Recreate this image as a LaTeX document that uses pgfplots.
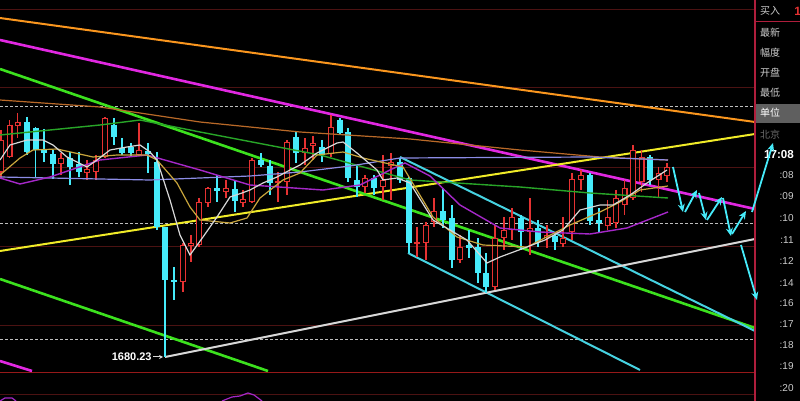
\documentclass[border=0pt]{standalone}
\usepackage{pgfplots}
\pgfplotsset{compat=1.18}
\usepackage{pgfplotstable}
\usepackage{fontspec}
\setmainfont{Liberation Sans}
\newfontfamily\cjk{Noto Sans CJK SC}
\usetikzlibrary{arrows.meta}
\definecolor{cred}{RGB}{230,50,50}
\definecolor{ccyan}{RGB}{70,235,250}
\definecolor{corange}{RGB}{250,150,30}
\definecolor{cmag}{RGB}{225,40,225}
\definecolor{cyel}{RGB}{240,235,40}
\definecolor{cgreen}{RGB}{60,225,30}
\definecolor{cchan}{RGB}{70,210,225}
\definecolor{cwhite}{RGB}{215,215,215}
\definecolor{cdash}{RGB}{190,190,190}
\definecolor{cgrid}{RGB}{75,18,18}
\definecolor{cgridb}{RGB}{150,25,25}
\definecolor{csep}{RGB}{175,30,60}
\definecolor{cbox}{RGB}{95,95,95}
\definecolor{cgreytxt}{RGB}{105,105,105}
\definecolor{ma5}{RGB}{215,215,215}
\definecolor{ma10}{RGB}{200,165,60}
\definecolor{ma20}{RGB}{165,40,200}
\definecolor{ma30}{RGB}{140,140,230}
\definecolor{ma60}{RGB}{40,165,40}
\definecolor{ma120}{RGB}{185,105,40}
\definecolor{ctext}{RGB}{205,205,205}

\pgfplotstableread{
x wt wb bt bb
1 130 178 140 172
9.5 120 158 125 157
17.5 113 138 122 126
61 153 175 158 164
87 160 180 169 173
96 155 180 160 172
105 117 158 118 157
139 123 155 150 155
183 243 292 245 282
191 235 262 243 246
199 198 247 202 245
208 187 207 188 203
226 180 198 188 192
243 190 207 199 203
252 158 203 160 202
278 172 202 181 183
287 140 195 142 182
305 138 165 148 153
313 136 160 143 146
331 115 157 127 154
365 175 193 178 187
383 155 200 180 187
391 153 200 162 166
417 227 257 242 244
426 222 260 225 243
434 198 227 211 222
460 235 263 247 260
495 225 290 238 287
504 217 250 230 238
512 208 240 217 230
530 198 255 228 232
547 225 248 235 238
563 217 247 238 244
572 173 240 179 232
581 170 190 175 180
607.5 200 230 217 226
616 190 228 198 223
624.5 180 215 188 205
633 145 200 150 198
641.5 150 192 157 182
658.5 167 198 173 180
667 163 182 167 176
}\redc

\pgfplotstableread{
x wt wb bt bb
27 117 155 122 152
35.5 127 178 128 150
44 129 162 150 153
53 150 179 154 164
70 152 185 158 167
79 152 177 164 172
114 118 145 125 137
122 138 155 148 153
131 143 157 147 153
148 143 173 151 154
157 152 230 162 227
165 227 357 227 280
174 267 300 280 282
217 175 202 188 191
235 180 212 189 201
261 153 167 160 165
270 160 195 166 183
296 132 163 137 153
322 140 162 147 155
340 118 135 120 133
348 128 182 132 178
357 165 197 180 187
374 175 195 178 188
400 158 183 162 180
409 177 253 178 243
443 188 228 211 220
452 205 268 218 260
469 230 258 245 248
478 238 283 247 273
486 253 293 273 287
521 215 250 218 232
538 220 247 228 242
555 233 250 236 242
590 173 225 175 221
599 208 233 220 223
650 155 185 157 180
}\cyanc

\begin{document}
\begin{tikzpicture}
\begin{axis}[
  x=0.5pt, y=0.5pt,
  xmin=0, xmax=800, ymin=0, ymax=401,
  y dir=reverse,
  enlargelimits=false,
  scale only axis,
  axis line style={draw=none},
  ticks=none,
  axis background/.style={fill=black},
  clip=true,
]
% grid lines
\addplot[cgrid, line width=0.5pt] coordinates {(0,10) (755,10)};
\addplot[cgrid, line width=0.5pt] coordinates {(0,88) (755,88)};
\addplot[cgrid, line width=0.5pt] coordinates {(0,168) (755,168)};
\addplot[cgrid, line width=0.5pt] coordinates {(0,247) (755,247)};
\addplot[cgrid, line width=0.5pt] coordinates {(0,326) (755,326)};
\addplot[cdash, line width=0.5pt, dash pattern=on 1.5pt off 1pt] coordinates {(0,107) (753,107)};
\addplot[cdash, line width=0.5pt, dash pattern=on 1.5pt off 1pt] coordinates {(0,224) (753,224)};
\addplot[cdash, line width=0.5pt, dash pattern=on 1.5pt off 1pt] coordinates {(0,340) (753,340)};
\addplot[cgridb, line width=0.5pt] coordinates {(0,373) (755,373)};
\addplot[cgrid, line width=0.5pt] coordinates {(0,395) (755,395)};
% indicator bits
\addplot[ma20, line width=0.6pt] coordinates {(0,401) (5,398) (12,398) (16,401)};
\addplot[ma20, line width=0.6pt] coordinates {(222,401) (232,397) (240,396) (248,393) (254,395) (262,401)};

% trend lines
\addplot[corange, line width=1pt] coordinates {(0,18) (755,122)};
\addplot[cmag, line width=1.3pt] coordinates {(0,40) (755,209)};
\addplot[cmag, line width=1.3pt] coordinates {(0,361) (32,371)};
\addplot[cyel, line width=1pt] coordinates {(0,251) (755,134)};
\addplot[cgreen, line width=1.3pt] coordinates {(0,69) (755,328)};
\addplot[cgreen, line width=1.3pt] coordinates {(0,279) (268,371)};
\addplot[cchan, line width=1pt] coordinates {(400,157) (755,331)};
\addplot[cchan, line width=1pt] coordinates {(408,253) (640,370)};
\addplot[cwhite, line width=1pt] coordinates {(165,357) (755,239)};
\addplot[cwhite, line width=0.5pt, -{Stealth[length=2pt,width=2pt]}] coordinates {(153,357) (163,357)};

% red candles
\addplot[draw=none, mark=none, error bars/.cd, y dir=plus, y explicit, error mark=none,
  error bar style={draw=cred, line width=0.6pt}]
  table[x=x, y=wt, y error expr=\thisrow{wb}-\thisrow{wt}] {\redc};
\addplot[draw=none, mark=none, error bars/.cd, y dir=plus, y explicit, error mark=none,
  error bar style={draw=cred, line width=3pt}]
  table[x=x, y=bt, y error expr={max(\thisrow{bb}-\thisrow{bt},1)}] {\redc};
\addplot[draw=none, mark=none, error bars/.cd, y dir=plus, y explicit, error mark=none,
  error bar style={draw=black, line width=1.9pt}]
  table[x=x, y expr=\thisrow{bt}+1.1, y error expr={max(\thisrow{bb}-\thisrow{bt}-2.2,0)}] {\redc};
% cyan candles
\addplot[draw=none, mark=none, error bars/.cd, y dir=plus, y explicit, error mark=none,
  error bar style={draw=ccyan, line width=0.6pt}]
  table[x=x, y=wt, y error expr=\thisrow{wb}-\thisrow{wt}] {\cyanc};
\addplot[draw=none, mark=none, error bars/.cd, y dir=plus, y explicit, error mark=none,
  error bar style={draw=ccyan, line width=3pt}]
  table[x=x, y=bt, y error expr={max(\thisrow{bb}-\thisrow{bt},1)}] {\cyanc};

% moving averages
\addplot[ma120, line width=0.6pt] coordinates {(0,100) (100,107) (200,122) (300,132) (410,139) (520,150) (600,157) (668,160)};
\addplot[ma60, line width=0.7pt] coordinates {(0,135) (100,125) (140,120) (200,132) (320,155) (410,180) (520,187) (590,193) (668,198)};
\addplot[ma30, line width=0.6pt] coordinates {(0,177) (150,180) (250,176) (300,172) (350,166) (400,158) (590,157) (668,160)};
\addplot[ma20, line width=0.7pt] coordinates {(0,178) (20,184) (50,177) (100,160) (147,155) (200,170) (250,185) (323,190) (360,185) (390,170) (405,163) (430,176) (460,205) (500,228) (540,232) (590,234) (627,228) (668,212)};
\addplot[ma10, line width=0.6pt] coordinates {(0,175) (20,158) (33,150) (57,149) (93,157) (117,155) (147,155) (157,160) (177,183) (190,207) (200,220) (230,223) (247,218) (260,198) (283,180) (300,173) (317,155) (343,152) (363,158) (403,167) (433,217) (457,237) (483,245) (527,247) (570,225) (600,212) (620,202) (640,190) (668,186)};
\addplot[ma5, line width=0.6pt] coordinates {(0,160) (10,145) (27,140) (43,140) (53,145) (67,157) (87,167) (97,160) (110,150) (127,147) (140,145) (150,152) (157,160) (170,200) (180,235) (190,255) (203,237) (217,217) (230,197) (242,193) (250,190) (263,183) (277,177) (290,170) (300,165) (317,153) (337,143) (343,142) (357,153) (377,170) (383,180) (397,178) (410,183) (433,220) (450,230) (467,240) (487,263) (500,257) (527,247) (545,240) (563,230) (580,210) (600,205) (613,205) (630,195) (647,183) (667,170)};

% projection arrows
\addplot[ccyan, line width=0.9pt, -{Stealth[length=4pt,width=3.5pt]}] coordinates {(673,167) (683,212)};
\addplot[ccyan, line width=0.9pt, -{Stealth[length=4pt,width=3.5pt]}] coordinates {(685,212) (697,190)};
\addplot[ccyan, line width=0.9pt, -{Stealth[length=4pt,width=3.5pt]}] coordinates {(699,193) (706,220)};
\addplot[ccyan, line width=0.9pt, -{Stealth[length=4pt,width=3.5pt]}] coordinates {(707,220) (722,197)};
\addplot[ccyan, line width=0.9pt, -{Stealth[length=4pt,width=3.5pt]}] coordinates {(723,198) (731,236)};
\addplot[ccyan, line width=0.9pt, -{Stealth[length=4pt,width=3.5pt]}] coordinates {(732,234) (746,211)};

% right panel
\fill[black] (axis cs:756,0) rectangle (axis cs:800,401);
\fill[cbox] (axis cs:756,104) rectangle (axis cs:800,123);
\addplot[csep, line width=0.6pt] coordinates {(755,0) (755,401)};
\addplot[csep, line width=0.5pt] coordinates {(755,22) (800,22)};
\addplot[ccyan, line width=0.9pt, -{Stealth[length=4pt,width=3.5pt]}] coordinates {(741,245) (757,300)};

\node[text=ctext, font=\cjk\fontsize{5}{6}\selectfont] at (axis cs:770,11) {买入};
\node[text=cred, font=\fontsize{6}{7}\selectfont\bfseries, anchor=west, inner sep=0pt] at (axis cs:794,11) {1};
\node[text=ctext, font=\cjk\fontsize{5}{6}\selectfont] at (axis cs:770,33) {最新};
\node[text=ctext, font=\cjk\fontsize{5}{6}\selectfont] at (axis cs:770,53) {幅度};
\node[text=ctext, font=\cjk\fontsize{5}{6}\selectfont] at (axis cs:770,73) {开盘};
\node[text=ctext, font=\cjk\fontsize{5}{6}\selectfont] at (axis cs:770,93) {最低};
\node[text=white, font=\cjk\fontsize{5}{6}\selectfont] at (axis cs:770,113) {单位};
\node[text=cgreytxt, font=\cjk\fontsize{5}{6}\selectfont] at (axis cs:770,135) {北京};
\node[text=white, font=\fontsize{5.8}{7}\selectfont\bfseries] at (axis cs:779,155) {17:08};
\addplot[ccyan, line width=0.9pt, -{Stealth[length=4pt,width=3.5pt]}] coordinates {(752,212) (773,143)};
\node[text=ctext, font=\fontsize{5}{6}\selectfont, anchor=east, inner sep=0pt] at (axis cs:794,175) {:08};
\node[text=ctext, font=\fontsize{5}{6}\selectfont, anchor=east, inner sep=0pt] at (axis cs:794,196) {:09};
\node[text=ctext, font=\fontsize{5}{6}\selectfont, anchor=east, inner sep=0pt] at (axis cs:794,218) {:10};
\node[text=ctext, font=\fontsize{5}{6}\selectfont, anchor=east, inner sep=0pt] at (axis cs:794,240) {:11};
\node[text=ctext, font=\fontsize{5}{6}\selectfont, anchor=east, inner sep=0pt] at (axis cs:794,261) {:12};
\node[text=ctext, font=\fontsize{5}{6}\selectfont, anchor=east, inner sep=0pt] at (axis cs:794,283) {:14};
\node[text=ctext, font=\fontsize{5}{6}\selectfont, anchor=east, inner sep=0pt] at (axis cs:794,303) {:16};
\node[text=ctext, font=\fontsize{5}{6}\selectfont, anchor=east, inner sep=0pt] at (axis cs:794,324) {:17};
\node[text=ctext, font=\fontsize{5}{6}\selectfont, anchor=east, inner sep=0pt] at (axis cs:794,345) {:18};
\node[text=ctext, font=\fontsize{5}{6}\selectfont, anchor=east, inner sep=0pt] at (axis cs:794,366) {:19};
\node[text=ctext, font=\fontsize{5}{6}\selectfont, anchor=east, inner sep=0pt] at (axis cs:794,388) {:20};
\node[text=white, font=\fontsize{5.5}{6}\selectfont\bfseries, anchor=east, inner sep=0pt] at (axis cs:152,357) {1680.23};
\end{axis}
\end{tikzpicture}
\end{document}
